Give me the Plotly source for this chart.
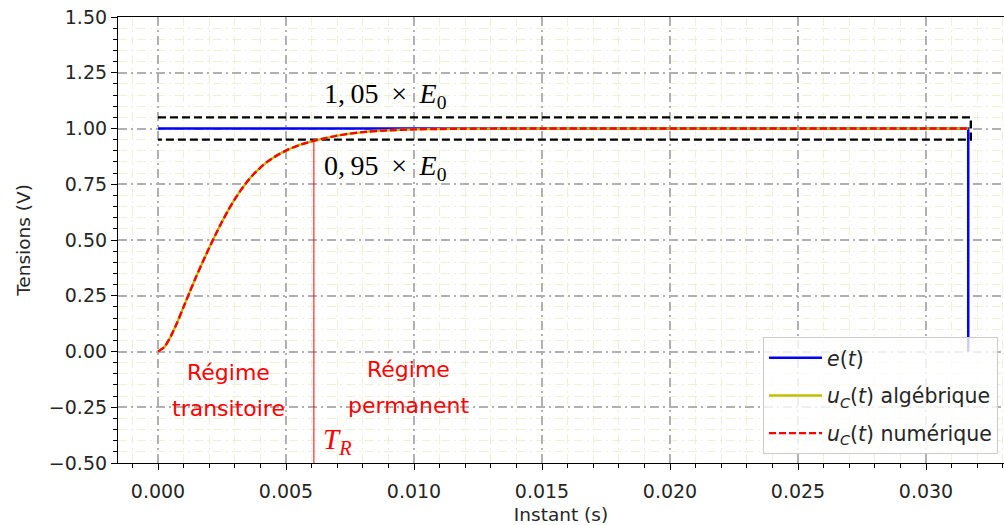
import plotly.graph_objects as go

# ---- data ----
t_e = [0.0, 0.03165, 0.03165]
e_vals = [1.0, 1.0, 0.0]

t_uc_ms = [0, 0.25, 0.5, 0.75, 1.0, 1.25, 1.5, 1.75, 2.0, 2.25, 2.5, 2.75, 3.0, 3.25,
           3.5, 3.75, 4.0, 4.25, 4.5, 4.75, 5.0, 5.5, 6.0, 6.5, 7.0, 7.5, 8.0, 9.0,
           10.0, 11.0, 12.0, 14.0, 31.65]
uc_vals = [0.0, 0.02, 0.068, 0.13, 0.2, 0.27, 0.338, 0.402, 0.465, 0.525, 0.582, 0.635,
           0.683, 0.726, 0.764, 0.797, 0.825, 0.849, 0.869, 0.886, 0.901, 0.925, 0.942,
           0.956, 0.968, 0.977, 0.984, 0.992, 0.996, 0.998, 0.999, 1.0, 1.0]
t_uc = [v * 1e-3 for v in t_uc_ms]

band_t = [0.0, 0.03175, 0.03175, 0.0]
band_v = [1.05, 1.05, 0.95, 0.95]

T_R = 6.09e-3
tr_v = [-0.5, 0.95]

x_tickvals = [0.0, 0.005, 0.010, 0.015, 0.020, 0.025, 0.030]
x_ticktext = ["0.000", "0.005", "0.010", "0.015", "0.020", "0.025", "0.030"]
y_tickvals = [-0.5, -0.25, 0.0, 0.25, 0.5, 0.75, 1.0, 1.25, 1.5]
y_ticktext = ["\u22120.50", "\u22120.25", "0.00", "0.25", "0.50", "0.75", "1.00", "1.25", "1.50"]

FONT = "DejaVu Sans"
SERIF = "Liberation Serif"

fig = go.Figure()

fig.add_trace(go.Scatter(x=band_t, y=band_v, mode="lines",
                         line=dict(color="black", width=2.4, dash="8px,4px"),
                         showlegend=False, hoverinfo="skip"))
fig.add_trace(go.Scatter(x=[T_R, T_R], y=tr_v, mode="lines",
                         line=dict(color="red", width=1), showlegend=False))
fig.add_trace(go.Scatter(x=t_e, y=e_vals, mode="lines", name="<i>e</i>(<i>t</i>)",
                         legendgroup="a", line=dict(color="#0000ff", width=2.5)))
fig.add_trace(go.Scatter(x=t_uc, y=uc_vals, mode="lines", line_shape="spline",
                         line_smoothing=0.5,
                         name="<i>u</i><sub><i>C</i></sub>(<i>t</i>) algébrique",
                         legendgroup="b", line=dict(color="#bfbf00", width=2.4)))
fig.add_trace(go.Scatter(x=t_uc, y=uc_vals, mode="lines", line_shape="spline",
                         line_smoothing=0.5,
                         name="<i>u</i><sub><i>C</i></sub>(<i>t</i>) numérique",
                         legendgroup="c", line=dict(color="#ff0000", width=2.4, dash="7px,3px")))

red = "#ff0000"
tsp = "\u2009"
ann = [
    dict(x=8.87e-3, y=1.15, text=f"1,{tsp}05 {tsp}×{tsp} <i>E</i><sub>0</sub>",
         font=dict(family=SERIF, size=28, color="black")),
    dict(x=8.87e-3, y=0.823, text=f"0,{tsp}95 {tsp}×{tsp} <i>E</i><sub>0</sub>",
         font=dict(family=SERIF, size=28, color="black")),
    dict(x=2.77e-3, y=-0.095, text="Régime", font=dict(family=FONT, size=22, color=red)),
    dict(x=2.77e-3, y=-0.255, text="transitoire", font=dict(family=FONT, size=22, color=red)),
    dict(x=9.8e-3, y=-0.08, text="Régime", font=dict(family=FONT, size=22, color=red)),
    dict(x=9.8e-3, y=-0.24, text="permanent", font=dict(family=FONT, size=22, color=red)),
    dict(x=7.0e-3, y=-0.4, text="<i>T</i><sub><i>R</i></sub>", font=dict(family=SERIF, size=29, color=red)),
]
for a in ann:
    fig.add_annotation(xref="x", yref="y", showarrow=False, **a)

grid_major = "#b0b0b0"
grid_minor = "#f0f0d8"

fig.update_layout(
    width=1004, height=525,
    margin=dict(l=118, r=0, t=17, b=62),
    plot_bgcolor="white", paper_bgcolor="white",
    font=dict(family=FONT, size=19, color="#262626"),
    legend=dict(x=0.728, y=0.2825, xanchor="left", yanchor="top", itemwidth=53,
                bgcolor="rgba(255,255,255,0.8)", bordercolor="#cccccc", borderwidth=1,
                font=dict(family=FONT, size=20.5, color="#262626"), tracegroupgap=8),
    xaxis=dict(range=[-0.0015625, 0.0330469], tickvals=x_tickvals, ticktext=x_ticktext,
               automargin=False,
               showline=True, linecolor="black", linewidth=1.2, mirror=True,
               ticks="outside", ticklen=6, tickwidth=1.2, tickcolor="black",
               tickfont=dict(size=19), ticklabelstandoff=5,
               showgrid=True, gridcolor=grid_major, gridwidth=1.5, griddash="9px,4px,2px,4px",
               zeroline=False,
               minor=dict(dtick=0.001, tick0=0, ticks="outside", ticklen=3.5, tickcolor="black",
                          showgrid=True, gridcolor=grid_minor, gridwidth=1),
               title=dict(text="Instant (s)", standoff=9, font=dict(size=18.5))),
    yaxis=dict(range=[-0.5, 1.5], tickvals=y_tickvals, ticktext=y_ticktext,
               automargin=False,
               showline=True, linecolor="black", linewidth=1.2,
               ticks="outside", ticklen=6, tickwidth=1.2, tickcolor="black",
               tickfont=dict(size=19),
               showgrid=True, gridcolor=grid_major, gridwidth=1.5, griddash="9px,4px,2px,4px",
               zeroline=False,
               minor=dict(dtick=0.05, tick0=0, ticks="outside", ticklen=3.5, tickcolor="black",
                          showgrid=True, gridcolor=grid_minor, gridwidth=1),
               title=dict(text="Tensions (V)", standoff=13, font=dict(size=18.5))),
)

# remove the browser's default 8px body margin so the figure fills the window exactly
fig.write_html("out.html", config={"displayModeBar": False},
               post_script="document.body.style.margin='0px';document.body.style.overflow='hidden';")
